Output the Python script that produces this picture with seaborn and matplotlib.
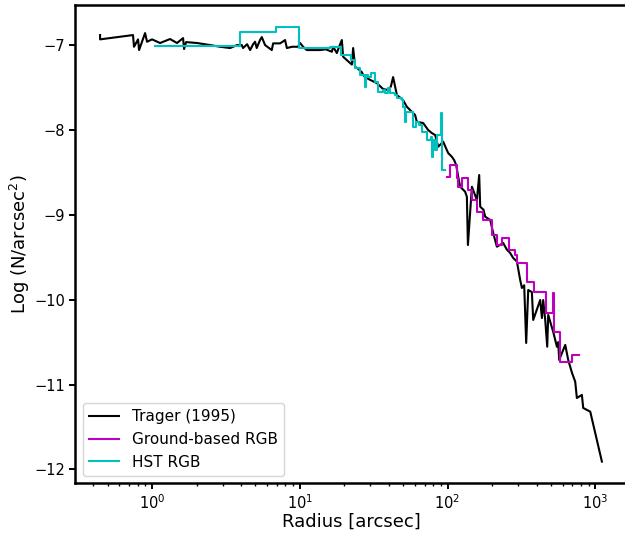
import matplotlib
matplotlib.use("Agg")
import matplotlib.pyplot as plt
import seaborn as sns
import pandas as pd

# Trager (1995) profile
r_trager = [0.445, 0.445, 0.743, 0.755, 0.804, 0.817, 0.897, 0.925, 1.0, 1.133,
            1.324, 1.476, 1.622, 1.647, 1.70, 2.017, 2.47, 2.887, 3.374, 3.763,
            4.05, 4.13, 4.40, 4.61, 4.83, 4.98, 5.11, 5.38, 5.53, 5.82,
            6.46, 6.60, 7.36, 7.95, 8.17, 8.87, 9.74, 10.05, 10.53, 11.15,
            12.3, 13.72, 15.0, 16.47, 16.81, 17.81, 18.45, 19.25, 19.64, 21.2,
            22.5, 22.96, 23.67, 24.8, 26.3, 26.84, 27.7, 29.9, 33.2, 36.6,
            39.6, 41.3, 42.8, 45.4, 47.8, 50.0, 53.0, 55.8, 60.3, 61.9,
            68.4, 73.9, 78.3, 82.4, 86.4, 93.4, 100.9, 106.9, 110.8, 114.3,
            118.0, 121.7, 131.5, 135.1, 137.3, 146.1, 157.9, 163.7, 166.3, 175.1,
            179.7, 194.3, 203.6, 215.7, 237.9, 251.9, 265.4, 278.0, 294.6, 310.1,
            318.5, 330.0, 340.5, 351.4, 372.0, 379.8, 423.6, 435.0, 443.8, 458.0,
            472.5, 480.0, 518.8, 549.6, 560.7, 569.6, 594.0, 625.6, 655.6, 694.5,
            730.8, 750.0, 811.0, 828.0, 923.8, 1108.0]
logn_trager = [-6.882, -6.933, -6.882, -7.02, -6.933, -7.059, -6.859, -6.961, -6.933, -6.976,
               -6.929, -6.976, -6.918, -7.047, -6.965, -6.976, -7.0, -7.02, -7.035, -7.0,
               -7.0, -7.035, -6.99, -7.059, -6.99, -6.961, -7.035, -6.941, -6.906, -7.0,
               -7.059, -6.98, -6.98, -6.941, -7.035, -7.02, -7.02, -6.976, -7.02, -7.059,
               -7.059, -7.059, -7.05, -7.079, -7.02, -7.094, -7.02, -6.941, -7.138, -7.19,
               -7.23, -7.035, -7.256, -7.28, -7.32, -7.353, -7.377, -7.41, -7.448, -7.518,
               -7.53, -7.49, -7.377, -7.589, -7.62, -7.648, -7.727, -7.766, -7.824, -7.903,
               -7.919, -8.001, -8.037, -8.06, -8.198, -8.139, -8.272, -8.316, -8.355, -8.413,
               -8.551, -8.669, -8.728, -8.787, -9.356, -8.669, -8.826, -8.531, -8.905, -8.94,
               -9.022, -9.06, -9.214, -9.376, -9.332, -9.41, -9.45, -9.509, -9.55, -9.768,
               -9.862, -9.83, -10.51, -9.886, -9.91, -10.239, -10.004, -10.216, -10.004, -10.239,
               -10.554, -10.18, -10.38, -10.554, -10.50, -10.71, -10.63, -10.533, -10.71, -10.86,
               -10.966, -11.158, -11.122, -11.276, -11.319, -11.908]

# Ground-based RGB (binned, step profile)
r_ground = [98.9, 104.1, 115.6, 118.5, 125.0, 138.5, 146.1, 157.9, 175.0, 199.5,
            215.7, 233.2, 258.5, 286.8, 294.6, 344.2, 381.6, 465.3, 516.4, 521.3,
            578.7, 694.5, 769.8]
logn_ground = [-8.551, -8.413, -8.57, -8.669, -8.57, -8.708, -8.826, -8.963, -9.061, -9.238,
               -9.356, -9.277, -9.415, -9.474, -9.571, -9.788, -9.906, -10.157, -9.921, -10.377,
               -10.73, -10.651, -10.651]

# HST RGB (binned, step profile)
r_hst = [1.048, 3.943, 6.91, 9.89, 16.04, 19.04, 22.25, 23.68, 25.6, 27.47,
         27.9, 29.0, 30.4, 32.1, 33.9, 36.6, 37.8, 39.6, 40.9, 44.2,
         45.6, 48.9, 50.0, 51.2, 52.0, 58.0, 61.3, 64.2, 66.8, 72.2,
         77.4, 78.6, 79.9, 81.8, 84.4, 89.8, 91.2, 91.9, 96.3]
logn_hst = [-7.006, -6.843, -6.782, -7.035, -7.018, -7.118, -7.177, -7.271, -7.353, -7.491,
            -7.353, -7.373, -7.333, -7.432, -7.55, -7.53, -7.569, -7.51, -7.569, -7.589,
            -7.628, -7.648, -7.727, -7.903, -7.786, -7.962, -7.903, -7.942, -8.021, -8.119,
            -8.08, -8.316, -8.119, -8.237, -8.06, -7.804, -8.276, -8.472, -8.472]

labels = ["Trager (1995)", "Ground-based RGB", "HST RGB"]

plt.rcParams['font.family'] = ['DejaVu Sans']

fig = plt.figure(figsize=(6.25, 5.34), dpi=100)
ax = fig.add_axes([0.12, 0.0948, 0.8832, 0.8962])
ax.set_xscale('log')

df_t = pd.DataFrame({"r": r_trager, "n": logn_trager})
df_g = pd.DataFrame({"r": r_ground, "n": logn_ground})
df_h = pd.DataFrame({"r": r_hst, "n": logn_hst})

sns.lineplot(data=df_t, x="r", y="n", color="k", lw=1.5, estimator=None,
             sort=False, label=labels[0], ax=ax)
sns.lineplot(data=df_g, x="r", y="n", color="m", lw=1.5, estimator=None,
             sort=False, drawstyle="steps-post", label=labels[1], ax=ax)
sns.lineplot(data=df_h, x="r", y="n", color="c", lw=1.5, estimator=None,
             sort=False, drawstyle="steps-post", label=labels[2], ax=ax)

ax.set_xlabel("Radius [arcsec]", fontsize=13, labelpad=1)
ax.set_ylabel("Log (N/arcsec$^2$)", fontsize=13, labelpad=2)
ax.tick_params(axis='both', which='major', labelsize=10.5, length=4, width=1.4, pad=3)
ax.tick_params(axis='both', which='minor', length=2.5, width=1.0)
for s in ax.spines.values():
    s.set_linewidth(1.8)

ax.legend(loc='lower left', fontsize=11)

fig.savefig("out.png", dpi=100)
